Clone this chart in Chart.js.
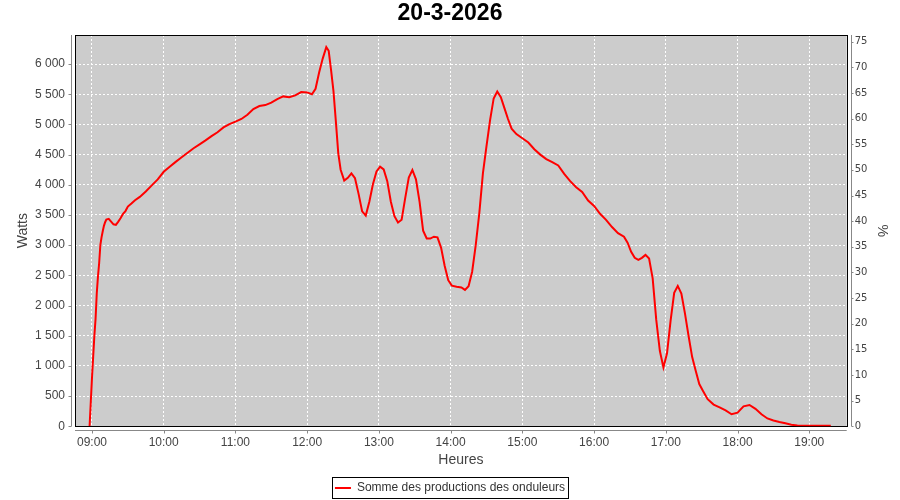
<!DOCTYPE html>
<html>
<head>
<meta charset="utf-8">
<title>Production 20-3-2026</title>
<script src="https://cdn.jsdelivr.net/npm/chart.js@4.4.0/dist/chart.umd.min.js"></script>
<style>
  html, body { margin: 0; padding: 0; background: #fff; }
  #wrap { width: 900px; height: 500px; }
</style>
</head>
<body>
<div id="wrap"><canvas id="chart"></canvas></div>
<script>
// readings of the day (time of day, watts)
const times = [
  '08:58','08:59','09:00','09:01','09:02','09:03','09:04','09:05','09:06','09:07',
  '09:08','09:09','09:10','09:11','09:12','09:14','09:16','09:18','09:20','09:22',
  '09:24','09:26','09:28','09:30','09:33','09:36','09:40','09:45','09:50','09:55',
  '10:00','10:05','10:10','10:15','10:20','10:25','10:30','10:35','10:40','10:45',
  '10:50','10:55','11:00','11:05','11:10','11:15','11:20','11:25','11:30','11:35',
  '11:40','11:45','11:50','11:55','12:00','12:04','12:07','12:10','12:13','12:16',
  '12:18','12:20','12:22','12:24','12:26','12:28','12:31','12:34','12:37','12:40',
  '12:43','12:46','12:49','12:52','12:55','12:58','13:01','13:04','13:07','13:10',
  '13:13','13:16','13:19','13:22','13:25','13:28','13:31','13:34','13:37','13:40',
  '13:43','13:46','13:49','13:52','13:55','13:58','14:01','14:05','14:09','14:12',
  '14:15','14:18','14:21','14:24','14:27','14:30','14:33','14:36','14:39','14:42',
  '14:45','14:48','14:51','14:55','15:00','15:05','15:10','15:15','15:20','15:25',
  '15:30','15:35','15:40','15:45','15:50','15:55','16:00','16:05','16:10','16:15',
  '16:20','16:25','16:28','16:31','16:34','16:37','16:40','16:43','16:46','16:49',
  '16:52','16:55','16:58','17:01','17:04','17:07','17:10','17:13','17:16','17:19',
  '17:22','17:25','17:28','17:31','17:35','17:40','17:45','17:50','17:55','18:00',
  '18:05','18:10','18:15','18:20','18:25','18:30','18:35','18:40','18:45','18:50',
  '19:00','19:10','19:18'
];
const watts = [
  0, 400, 800, 1150, 1500, 1780, 2200, 2480, 2700, 3000,
  3130, 3230, 3320, 3380, 3425, 3436, 3390, 3345, 3336, 3391,
  3450, 3520, 3565, 3640, 3690, 3745, 3800, 3890, 3990, 4090,
  4215, 4300, 4380, 4455, 4530, 4605, 4670, 4735, 4805, 4870,
  4950, 5005, 5045, 5090, 5160, 5254, 5305, 5320, 5360, 5420,
  5464, 5450, 5480, 5535, 5530, 5500, 5590, 5860, 6090, 6280,
  6220, 5900, 5550, 5050, 4525, 4250, 4070, 4115, 4190, 4110,
  3850, 3560, 3490, 3720, 4010, 4220, 4300, 4255, 4060, 3720,
  3480, 3375, 3420, 3780, 4120, 4245, 4090, 3720, 3240, 3110,
  3110, 3140, 3130, 2960, 2660, 2420, 2330, 2310, 2300, 2260,
  2320, 2560, 3000, 3530, 4190, 4640, 5070, 5430, 5546, 5450,
  5270, 5090, 4930, 4840, 4770, 4700, 4590, 4500, 4425, 4375,
  4320, 4180, 4060, 3960, 3880, 3740, 3650, 3520, 3420, 3300,
  3200, 3140, 3040, 2890, 2790, 2756, 2790, 2839, 2780, 2450,
  1762, 1250, 975, 1210, 1750, 2210, 2325, 2200, 1870, 1500,
  1150, 920, 700, 590, 450, 360, 315, 265, 200, 225,
  330, 353, 290, 200, 130, 95, 72, 52, 25, 12,
  10, 10, 10
];
const hourTicks = ['09:00','10:00','11:00','12:00','13:00','14:00','15:00','16:00','17:00','18:00','19:00'];
const wattTicks = [0, 500, 1000, 1500, 2000, 2500, 3000, 3500, 4000, 4500, 5000, 5500, 6000];
const percentTicks = [0, 5, 10, 15, 20, 25, 30, 35, 40, 45, 50, 55, 60, 65, 70, 75];

const seriesLabel = 'Somme des productions des onduleurs';
const FONT = '"Liberation Sans", Arial, sans-serif';
Chart.defaults.font.family = FONT;

const toMinutes = s => { const p = s.split(':'); return +p[0] * 60 + +p[1]; };
const points = times.map((t, i) => ({ x: toMinutes(t), y: watts[i] }));

// plot background, black frame, grey offset axis lines and the boxed legend
const plotFrame = {
  id: 'plotFrame',
  beforeDraw(chart) {
    const { ctx, chartArea: a } = chart;
    ctx.save();
    ctx.fillStyle = '#cccccc';
    ctx.fillRect(a.left, a.top, a.right - a.left, a.bottom - a.top);
    ctx.restore();
  },
  beforeDatasetsDraw(chart) {
    const { ctx, chartArea: a } = chart;
    ctx.save();
    ctx.strokeStyle = '#000';
    ctx.lineWidth = 1;
    const l = Math.round(a.left) + 0.5, t = Math.round(a.top) + 0.5;
    const r = Math.round(a.right) + 0.5, b = Math.round(a.bottom) + 0.5;
    ctx.strokeRect(l, t, r - l, b - t);
    ctx.restore();
  },
  afterDraw(chart) {
    const { ctx, chartArea: a, scales } = chart;
    const lx = Math.round(a.left) - 4 + 0.5;
    const rx = Math.round(a.right) + 4 + 0.5;
    const by = Math.round(a.bottom) + 4 + 0.5;
    ctx.save();
    ctx.strokeStyle = '#888888';
    ctx.lineWidth = 1;
    ctx.beginPath();
    ctx.moveTo(lx, a.top); ctx.lineTo(lx, a.bottom);
    scales.y.ticks.forEach(t => {
      const py = Math.round(scales.y.getPixelForValue(t.value)) + 0.5;
      ctx.moveTo(lx - 3, py); ctx.lineTo(lx, py);
    });
    ctx.moveTo(rx, a.top); ctx.lineTo(rx, a.bottom);
    scales.y2.ticks.forEach(t => {
      const py = Math.round(scales.y2.getPixelForValue(t.value)) + 0.5;
      ctx.moveTo(rx, py); ctx.lineTo(rx + 2, py);
    });
    ctx.moveTo(a.left, by); ctx.lineTo(a.right, by);
    scales.x.ticks.forEach(t => {
      const px = Math.round(scales.x.getPixelForValue(t.value)) + 0.5;
      ctx.moveTo(px, by); ctx.lineTo(px, by + 3);
    });
    ctx.stroke();

    // frame round the legend item
    const lg = chart.legend;
    if (lg) {
      ctx.font = '12px ' + FONT;
      const w = 16 + 6 + ctx.measureText(seriesLabel).width;
      const x0 = (lg.left + lg.right - w) / 2;
      const cy = lg.top + lg.options.labels.padding + 6;
      ctx.strokeStyle = '#000';
      ctx.strokeRect(Math.round(x0 - 3) + 0.5, Math.round(cy - 11) + 0.5, Math.round(w + 6), 21);
    }
    ctx.restore();
  }
};

const ctx = document.getElementById('chart').getContext('2d');
new Chart(ctx, {
  type: 'line',
  data: {
    datasets: [{
      label: seriesLabel,
      data: points,
      borderColor: '#ff0000',
      backgroundColor: '#ff0000',
      borderWidth: 2,
      pointRadius: 0,
      tension: 0,
      yAxisID: 'y'
    }]
  },
  options: {
    responsive: true,
    maintainAspectRatio: false,
    animation: false,
    layout: { padding: { left: 0, right: 0, top: 0, bottom: -4 } },
    plugins: {
      title: {
        display: true,
        text: '20-3-2026',
        color: '#000',
        font: { size: 23, weight: 'bold' },
        padding: { top: 0.2, bottom: 7.2 }
      },
      legend: {
        position: 'bottom',
        labels: {
          usePointStyle: true,
          pointStyle: 'line',
          pointStyleWidth: 16,
          color: '#333',
          font: { size: 12 },
          padding: 11
        }
      },
      tooltip: { enabled: false }
    },
    scales: {
      x: {
        type: 'linear',
        min: 525.8,
        max: 1171.3,
        afterBuildTicks: s => { s.ticks = hourTicks.map(t => ({ value: toMinutes(t) })); },
        afterFit: s => { s.height = 44.7; },
        ticks: {
          callback: (v, i) => hourTicks[i],
          color: '#444',
          font: { size: 12 },
          padding: 9,
          maxRotation: 0
        },
        grid: { color: '#ffffff', drawTicks: false },
        border: { display: false, dash: [2, 2] },
        title: { display: true, text: 'Heures', color: '#444', font: { size: 14 }, padding: { top: 0, bottom: 2.6 } }
      },
      y: {
        position: 'left',
        min: 0,
        max: 6481,
        afterBuildTicks: s => { s.ticks = wattTicks.map(v => ({ value: v })); },
        afterFit: s => { s.width = 75; },
        ticks: {
          color: '#444',
          font: { size: 12 },
          padding: 10,
          callback: v => String(v).replace(/\B(?=(\d{3})+(?!\d))/g, ' ')
        },
        grid: { color: '#ffffff', drawTicks: false },
        border: { display: false, dash: [2, 2] },
        title: { display: true, text: 'Watts', color: '#444', font: { size: 14 }, padding: { top: 15, bottom: 0 } }
      },
      y2: {
        position: 'right',
        min: 0,
        max: 76.3,
        afterBuildTicks: s => { s.ticks = percentTicks.map(v => ({ value: v })); },
        afterFit: s => { s.width = 53.3; },
        ticks: {
          color: '#444',
          font: { family: '"DejaVu Sans", sans-serif', size: 10 },
          padding: 8
        },
        grid: { display: false, drawTicks: false },
        border: { display: false },
        title: { display: true, text: '%', color: '#444', font: { size: 14 }, padding: { top: 10, bottom: 0 } }
      }
    }
  },
  plugins: [plotFrame]
});
</script>
</body>
</html>
